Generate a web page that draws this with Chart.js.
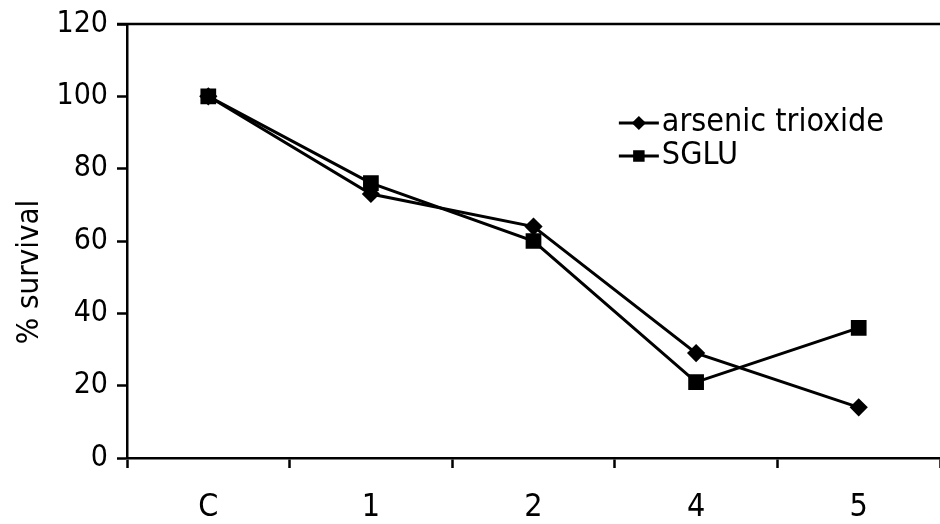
<!DOCTYPE html>
<html>
<head>
<meta charset="utf-8">
<script src="https://cdn.jsdelivr.net/npm/chart.js@4"></script>
<style>
  html, body { margin: 0; padding: 0; background: #fff; }
  #wrap { width: 940px; height: 524px; }
</style>
</head>
<body>
<div id="wrap"><canvas id="survivalChart"></canvas></div>
<script>
// Data
const doses = ['C', '1', '2', '4', '5'];
const arsenicTrioxide = [100, 73, 64, 29, 14];
const sglu = [100, 76, 60, 21, 36];
const yTicks = [0, 20, 40, 60, 80, 100, 120];
const yTitle = '% survival';

const FONT = "'Liberation Sans Narrow', 'DejaVu Sans Condensed', 'Liberation Sans', sans-serif";

// frame line along the top of the plot + the y title (sits a bit low in the original)
const frameAndTitle = {
    id: 'frameAndTitle',
    afterDraw(chart) {
        const a = chart.chartArea;
        const ctx = chart.ctx;
        ctx.save();
        ctx.strokeStyle = '#000';
        ctx.lineWidth = 2.5;
        ctx.beginPath();
        ctx.moveTo(a.left - 10, a.top);
        ctx.lineTo(a.right, a.top);
        ctx.stroke();

        ctx.translate(30, (a.top + a.bottom) / 2 + 31);
        ctx.rotate(-Math.PI / 2);
        ctx.fillStyle = '#000';
        ctx.font = '31px ' + FONT;
        ctx.textAlign = 'center';
        ctx.textBaseline = 'middle';
        ctx.fillText(yTitle, 0, 0);
        ctx.restore();
    }
};

// legend drawn inside the plot, line + marker + label
const insideLegend = {
    id: 'insideLegend',
    afterDraw(chart) {
        const a = chart.chartArea;
        const ctx = chart.ctx;
        const x0 = a.left + (a.right - a.left) * 0.605;
        let y = a.top + 99;
        ctx.save();
        chart.data.datasets.forEach(ds => {
            ctx.strokeStyle = '#000';
            ctx.lineWidth = 3;
            ctx.beginPath();
            ctx.moveTo(x0, y);
            ctx.lineTo(x0 + 40, y);
            ctx.stroke();
            Chart.helpers.drawPoint(ctx, {
                pointStyle: ds.pointStyle,
                radius: ds.pointStyle === 'rect' ? 6 : 5,
                borderWidth: 1
            }, x0 + 20, y);
            ctx.fillStyle = '#000';
            ctx.font = '32px ' + FONT;
            ctx.textBaseline = 'middle';
            ctx.textAlign = 'left';
            ctx.fillText(ds.label, x0 + 43, y);
            y += 33;
        });
        ctx.restore();
    }
};

const ctx = document.getElementById('survivalChart').getContext('2d');
new Chart(ctx, {
    type: 'line',
    data: {
        labels: doses,
        datasets: [{
            label: 'arsenic trioxide',
            data: arsenicTrioxide,
            borderColor: '#000',
            backgroundColor: '#000',
            borderWidth: 3,
            pointStyle: 'rectRot',
            pointRadius: 7,
            tension: 0
        }, {
            label: 'SGLU',
            data: sglu,
            borderColor: '#000',
            backgroundColor: '#000',
            borderWidth: 3,
            pointStyle: 'rect',
            pointRadius: 9,
            tension: 0
        }]
    },
    options: {
        responsive: true,
        maintainAspectRatio: false,
        animation: false,
        layout: { autoPadding: false, padding: { top: 24, right: 0, left: 0, bottom: 0 } },
        plugins: {
            legend: { display: false },
            tooltip: { enabled: false }
        },
        scales: {
            x: {
                offset: true,
                grid: {
                    offset: true,
                    drawOnChartArea: false,
                    drawTicks: true,
                    tickLength: 10,
                    tickWidth: 2.5,
                    color: '#000'
                },
                border: { color: '#000', width: 2.5 },
                ticks: {
                    color: '#000',
                    padding: 20,
                    font: { family: FONT, size: 32 }
                },
                afterFit(scale) {
                    scale.height = 66;
                    scale.paddingRight = 0;
                    scale.paddingLeft = 0;
                }
            },
            y: {
                min: 0,
                max: 120,
                afterBuildTicks(scale) {
                    scale.ticks = yTicks.map(v => ({ value: v }));
                },
                grid: {
                    drawOnChartArea: false,
                    drawTicks: true,
                    tickLength: 10,
                    tickWidth: 2.5,
                    color: '#000'
                },
                border: { color: '#000', width: 2.5 },
                ticks: {
                    color: '#000',
                    padding: 9,
                    font: { family: FONT, size: 30 }
                },
                afterFit(scale) {
                    scale.width = 127;
                    scale.paddingTop = 0;
                }
            }
        }
    },
    plugins: [frameAndTitle, insideLegend]
});
</script>
</body>
</html>
